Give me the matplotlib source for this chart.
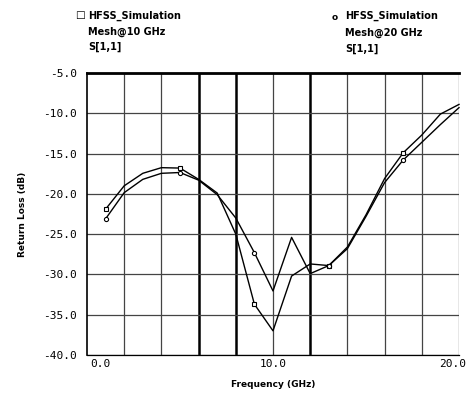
import numpy as np
import matplotlib
matplotlib.use("Agg")
import matplotlib.pyplot as plt
import matplotlib.transforms as mtransforms

# frequency points (GHz) and return loss (dB)
freq = [1, 2, 3, 4, 5, 6, 7, 8, 9, 10, 11, 12, 13, 14, 15, 16, 17, 18, 19, 20]
s11_mesh10 = [-21.9, -19.0, -17.45, -16.75, -16.8, -18.2, -19.9, -25.0, -33.7, -37.0,
              -30.2, -28.7, -28.9, -26.6, -22.6, -18.1, -14.9, -12.7, -10.1, -8.9]
s11_mesh20 = [-23.1, -19.85, -18.2, -17.45, -17.35, -18.3, -20.1, -23.0, -27.3, -32.05,
              -25.4, -29.9, -28.9, -26.8, -22.8, -18.6, -15.8, -13.6, -11.4, -9.3]

x_grid = np.arange(0, 21, 2)
x_heavy = [6, 8, 12]
x_labels = {0: "0.0", 10: "10.0", 20: "20.0"}
y_ticks = [-5, -10, -15, -20, -25, -30, -35, -40]

legend_10 = ["HFSS_Simulation", "Mesh@10 GHz", "S[1,1]"]
legend_20 = ["HFSS_Simulation", "Mesh@20 GHz", "S[1,1]"]

fig = plt.figure(figsize=(4.67, 3.98), dpi=100)
ax = fig.add_axes([87/467, 1-355/398, (459-87)/467, (355-73)/398])

for xv in x_grid:
    if xv in x_heavy:
        ax.axvline(xv, color="black", lw=1.8, zorder=1)
    elif xv != 0:
        ax.axvline(xv, color="#444444", lw=0.9, zorder=1)
for yv in y_ticks:
    ax.axhline(yv, color="#444444", lw=0.9, zorder=1)

ax.plot(freq, s11_mesh10, color="black", lw=1.0, marker="s", markersize=3.3,
        markerfacecolor="white", markeredgewidth=0.8, markevery=4, zorder=3, clip_on=False)
ax.plot(freq, s11_mesh20, color="black", lw=1.0, marker="o", markersize=3.0,
        markerfacecolor="white", markeredgewidth=0.8, markevery=4, zorder=3, clip_on=False)

ax.set_xlim(0, 20)
ax.set_ylim(-40, -5)
ax.spines["right"].set_visible(False)
ax.spines["top"].set_linewidth(2)
ax.spines["left"].set_linewidth(1.2)
ax.spines["bottom"].set_linewidth(0.9)

ax.set_yticks(y_ticks)
ax.set_yticklabels(["%.1f" % v for v in y_ticks], fontsize=8, family="DejaVu Sans Mono")
ax.set_xticks(list(x_labels.keys()))
ax.set_xticklabels(list(x_labels.values()), fontsize=8, family="DejaVu Sans Mono")
ax.tick_params(axis="y", length=0, pad=7)
ax.tick_params(axis="x", length=0, pad=3)
labs = ax.get_xticklabels()
labs[0].set_ha("left")
labs[0].set_transform(labs[0].get_transform() + mtransforms.ScaledTranslation(3/100, 0, fig.dpi_scale_trans))
labs[2].set_ha("right")
labs[2].set_transform(labs[2].get_transform() + mtransforms.ScaledTranslation(7/100, 0, fig.dpi_scale_trans))

ax.set_ylabel("Return Loss (dB)", fontsize=6.5, fontweight="bold", labelpad=12)
ax.set_xlabel("Frequency (GHz)", fontsize=6.5, fontweight="bold", labelpad=8)

# legend blocks
fig.text(80/467, 1-15/398, "\u25a1", fontsize=7.5, ha="center", va="center")
for i, t in enumerate(legend_10):
    fig.text(88/467, 1-(16+15.5*i)/398, t, fontsize=7, fontweight="bold", va="center")
fig.text(335/467, 1-17/398, "o", fontsize=6.5, ha="center", va="center", fontweight="bold")
for i, t in enumerate(legend_20):
    fig.text(345/467, 1-(16+16.5*i)/398, t, fontsize=7, fontweight="bold", va="center")

fig.savefig("out.png", dpi=100)
